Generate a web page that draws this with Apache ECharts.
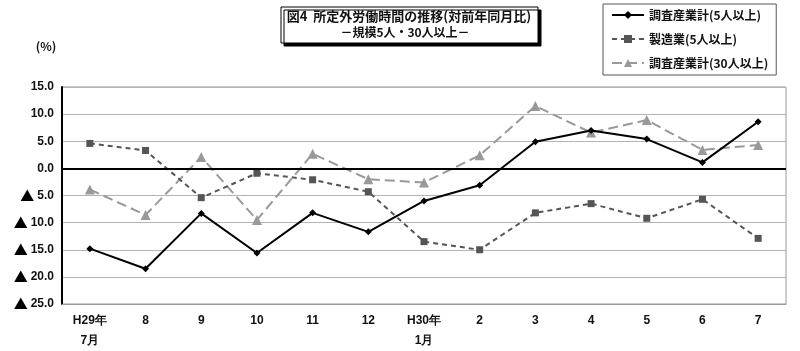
<!DOCTYPE html>
<html>
<head>
<meta charset="utf-8">
<script src="https://cdn.jsdelivr.net/npm/echarts@6/dist/echarts.min.js"></script>
<style>
  html, body { margin: 0; padding: 0; background: #fff; }
  #chart { width: 800px; height: 351px; }
</style>
</head>
<body>
<div id="chart"></div>
<script>
// 月 (H29年7月 〜 H30年7月)
const months = ['H29年\n7月', '8', '9', '10', '11', '12', 'H30年\n1月', '2', '3', '4', '5', '6', '7']
// 対前年同月比 (%)
const total5 = [-14.8, -18.5, -8.3, -15.6, -8.2, -11.7, -6.0, -3.1, 4.9, 7.0, 5.4, 1.1, 8.6]
const manuf5 = [4.6, 3.3, -5.4, -0.9, -2.1, -4.3, -13.5, -15.0, -8.2, -6.5, -9.2, -5.7, -12.9]
const total30 = [-3.9, -8.6, 2.1, -9.5, 2.7, -2.0, -2.6, 2.4, 11.5, 6.6, 8.9, 3.4, 4.3]
const names = ['調査産業計(5人以上)', '製造業(5人以上)', '調査産業計(30人以上)']

const jp = "'Noto Sans CJK JP', sans-serif"
const narrow = "'Liberation Sans Narrow', 'Liberation Sans', sans-serif"

const chart = echarts.init(document.getElementById('chart'), null, {renderer: 'canvas'})

chart.setOption({
  animation: false,
  backgroundColor: '#fff',
  grid: {
    left: 62, right: 14, top: 87, bottom: 46,
    show: true,
    borderColor: '#999',
    borderWidth: 1
  },
  legend: {
    orient: 'vertical',
    left: 603, top: 4,
    padding: [4, 8, 5, 8],
    itemWidth: 32, itemHeight: 10, itemGap: 10,
    borderColor: '#555', borderWidth: 1,
    backgroundColor: '#fff',
    data: names,
    textStyle: {fontFamily: jp, fontSize: 12, fontWeight: 'bold', color: '#111', lineHeight: 14}
  },
  graphic: [
    {
      type: 'rect',
      shape: {x: 281, y: 7, width: 257, height: 36},
      style: {fill: '#fff', stroke: '#000', lineWidth: 1, shadowColor: '#000', shadowOffsetX: 3, shadowOffsetY: 3, shadowBlur: 0},
      z: 10
    },
    {
      type: 'text', x: 409, y: 10, z: 11,
      style: {text: '図4  所定外労働時間の推移(対前年同月比)', fontFamily: jp, fontSize: 13, fontWeight: 'bold', fill: '#111', align: 'center'}
    },
    {
      type: 'text', x: 405, y: 26, z: 11,
      style: {text: '－規模5人・30人以上－', fontFamily: jp, fontSize: 12, fontWeight: 'bold', fill: '#111', align: 'center'}
    },
    {
      type: 'text', x: 46, y: 40, z: 11,
      style: {text: '(%)', fontFamily: jp, fontSize: 12, fontWeight: 'bold', fill: '#111', align: 'center'}
    }
  ],
  xAxis: {
    type: 'category',
    data: months,
    boundaryGap: true,
    axisLine: {onZero: false, lineStyle: {color: '#999'}},
    axisTick: {show: false},
    axisLabel: {
      interval: 0, margin: 7,
      fontFamily: narrow, fontSize: 12, fontWeight: 'bold', color: '#111', lineHeight: 20
    }
  },
  yAxis: {
    type: 'value',
    min: -25, max: 15, interval: 5,
    axisLine: {show: true, lineStyle: {color: '#000', width: 2}},
    axisTick: {show: false},
    splitLine: {lineStyle: {color: '#b4b4b4', width: 1}},
    axisLabel: {
      margin: 8,
      fontFamily: narrow, fontSize: 12, fontWeight: 'bold', color: '#111',
      formatter: (v) => v < 0 ? '{tri|▲}' + Math.abs(v).toFixed(1) : v.toFixed(1),
      rich: {
        tri: {fontFamily: jp, fontSize: 14, color: '#000', padding: [0, 3, 0, 0]}
      }
    }
  },
  series: [
    {
      name: names[2],
      type: 'line',
      data: total30,
      symbol: 'triangle', symbolSize: 10,
      itemStyle: {color: '#999'},
      lineStyle: {color: '#999', width: 2, type: [10, 5]},
      z: 2,
      markLine: {
        silent: true,
        symbol: 'none',
        label: {show: false},
        lineStyle: {color: '#000', width: 2, type: 'solid'},
        data: [{yAxis: 0}]
      }
    },
    {
      name: names[1],
      type: 'line',
      data: manuf5,
      symbol: 'rect', symbolSize: 7,
      itemStyle: {color: '#555'},
      lineStyle: {color: '#555', width: 2, type: [5, 4]},
      z: 3
    },
    {
      name: names[0],
      type: 'line',
      data: total5,
      symbol: 'diamond', symbolSize: 7,
      itemStyle: {color: '#000'},
      lineStyle: {color: '#000', width: 2},
      z: 4
    }
  ]
})
</script>
</body>
</html>
